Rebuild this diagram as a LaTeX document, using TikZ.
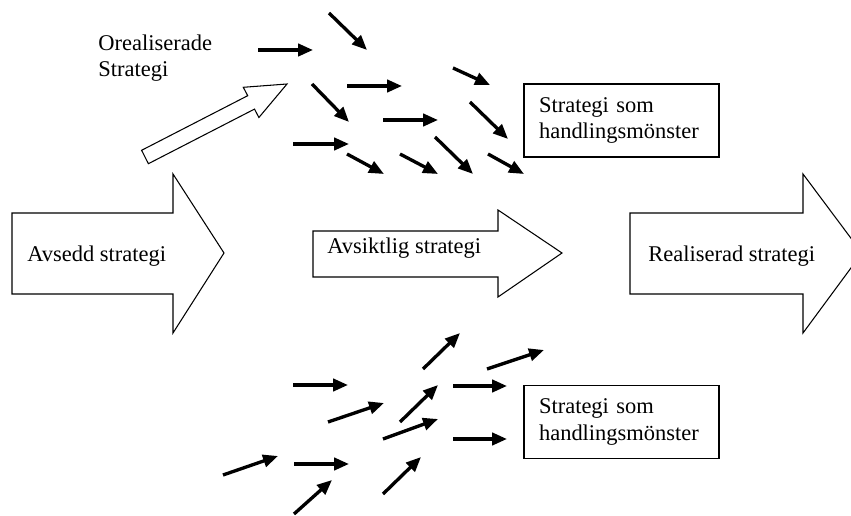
\documentclass[tikz,border=0pt]{standalone}
\usepackage{fontspec}
\setmainfont{Liberation Serif}
\usetikzlibrary{arrows.meta,positioning,calc}

\begin{document}
\begin{tikzpicture}[x=0.02cm,y=-0.02cm,
  pil/.style={line width=1.9pt,-{Triangle[length=8.5pt,width=7pt]}},
  stor/.style={line width=0.6pt,line join=miter},
  ruta/.style={draw,line width=0.7pt,minimum width=3.9cm,minimum height=1.46cm,
    text width=3.3cm,inner xsep=0.3cm,align=left},
  font=\fontsize{12.8}{15.3}\selectfont]
\useasboundingbox (0,0) rectangle (851,516);
% stora pilar
\draw[stor] (12,213) -- (173,213) -- (173,174) -- (224,253) -- (173,333) -- (173,294) -- (12,294) -- cycle;
\draw[stor] (313,231) -- (498,231) -- (498,210) -- (562,253) -- (498,297) -- (498,277) -- (313,277) -- cycle;
\draw[stor] (630,213) -- (803,213) -- (803,174) -- (862,253) -- (803,333) -- (803,294) -- (630,294) -- cycle;
\node[anchor=base west,inner sep=0] (avsedd) at (27,262) {Avsedd strategi};
\node[anchor=base west,inner sep=0] (avsiktlig) at (327,254) {Avsiktlig strategi};
\node[anchor=base west,inner sep=0] (realiserad) at (648,262) {Realiserad strategi};
% orealiserade
\draw[stor] (141.6,150.3) -- (247.7,95.7) -- (243.3,87.3) -- (287,84) -- (258.9,117.5) -- (254.5,109.1) -- (148.4,163.7) -- cycle;
\node[anchor=base west,inner sep=0,align=left] (oreal) at (98,77) {Orealiserade\\Strategi};
% rutor
\node[ruta] (topp) at (621.5,120.5) {Strategi som\\handlingsmönster};
\node[ruta] (botten) at (621.5,422) {Strategi som\\handlingsmönster};
% små pilar, övre
\foreach \a/\b/\c/\d in {258/50/313/50, 329/13/367/50, 347/86/402/86, 453/68/490/85,
  312/84/349/122, 383/120/438/120, 470/102/508/139, 293/144/349/144,
  347/154/384/174, 400/154/438/174, 435/137/473/174, 488/154/524/174}
  \draw[pil] (\a,\b) -- (\c,\d);
% små pilar, nedre
\foreach \a/\b/\c/\d in {293/385/348/385, 423/369/460/333, 487/369/544/350, 328/422/384/403,
  400/422/438/385, 453/386/507/386, 383/439/438/419, 453/439/507/439,
  223/475/278/456, 294/464/349/464, 294/514/332/480, 383/494/421/457}
  \draw[pil] (\a,\b) -- (\c,\d);
\end{tikzpicture}
\end{document}
